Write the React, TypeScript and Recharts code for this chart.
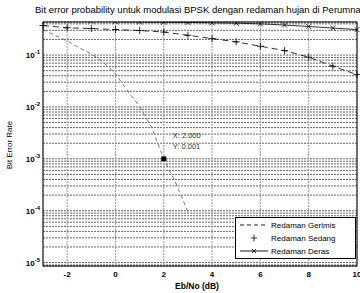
import React from 'react';
import {
  ComposedChart,
  Line,
  XAxis,
  YAxis,
  CartesianGrid,
  Legend,
  ReferenceDot,
  ReferenceLine,
  Customized,
} from 'recharts';

// Eb/No (dB) sample points
const ebnoGerimis = [-3, -2.5, -2, -1.5, -1, -0.5, 0, 0.5, 1, 1.5, 2, 2.5, 3];
const berGerimis = [0.31, 0.24, 0.188, 0.138, 0.106, 0.0724, 0.0437, 0.0204, 0.0102, 0.004, 0.001, 0.00034, 0.000095];

const ebno = [-3, -2, -1, 0, 1, 2, 3, 4, 5, 6, 7, 8, 9, 10];
const berSedang = [0.371, 0.335, 0.325, 0.31, 0.297, 0.278, 0.241, 0.208, 0.18, 0.148, 0.122, 0.091, 0.061, 0.042];
const berDeras = [0.48, 0.47, 0.455, 0.44, 0.435, 0.43, 0.425, 0.418, 0.411, 0.4, 0.379, 0.355, 0.332, 0.31];

const seriesNames = ['Redaman Gerimis', 'Redaman Sedang', 'Redaman Deras'];

const xTicks = [-2, 0, 2, 4, 6, 8, 10];
const decadeTicks = [1e-5, 1e-4, 1e-3, 1e-2, 1e-1];
const yDomain: [number, number] = [8.6e-6, 0.434];

const tipX = 2;
const tipY = 0.001;

const title = 'Bit error probability untuk modulasi BPSK dengan redaman hujan di Perumnas';

const FONT = '"Liberation Sans", Arial, Helvetica, sans-serif';

// log grid: every m * 10^k inside the y range
const yGridTicks = [9e-6, ...decadeTicks.flatMap((d) => [1, 2, 3, 4, 5, 6, 7, 8, 9].map((m) => m * d))].filter(
  (v) => v <= yDomain[1]
);

const gerimisData = ebnoGerimis.map((x, i) => ({ x, y: berGerimis[i] }));
const sedangData = ebno.map((x, i) => ({ x, y: berSedang[i] }));
const derasData = ebno.map((x, i) => ({ x, y: berDeras[i] }));

const PlusDot = (props: any) => {
  const { cx, cy, index } = props;
  if (cx == null || cy == null) return <g key={index} />;
  return (
    <path
      key={index}
      d={`M${cx - 3.5},${cy}H${cx + 3.5}M${cx},${cy - 3.5}V${cy + 3.5}`}
      stroke="#000"
      strokeWidth={0.8}
      fill="none"
    />
  );
};

const CrossDot = (props: any) => {
  const { cx, cy, index } = props;
  if (cx == null || cy == null) return <g key={index} />;
  const r = 2.5;
  return (
    <path
      key={index}
      d={`M${cx - r},${cy - r}L${cx + r},${cy + r}M${cx - r},${cy + r}L${cx + r},${cy - r}`}
      stroke="#000"
      strokeWidth={0.8}
      fill="none"
    />
  );
};

const YTick = (props: any) => {
  const { x, y, payload } = props;
  const lg = Math.log10(payload.value);
  const e = Math.round(lg);
  if (Math.abs(lg - e) > 1e-6) return <g />;
  return (
    <text x={x} y={y + 3} textAnchor="end" fontSize={8} fontFamily={FONT} fontWeight="bold" fill="#000">
      10
      <tspan dy={-4} fontSize={6}>
        {e}
      </tspan>
    </text>
  );
};

const DataTip = (props: any) => {
  const { cx, cy } = props;
  return (
    <g>
      <rect x={cx - 2.5} y={cy - 2.5} width={5} height={5} fill="#000" />
      <text x={cx + 9} y={cy - 20.5} fontSize={7.5} fontFamily={FONT} fill="#333">
        X: 2.000
      </text>
      <text x={cx + 9} y={cy - 10} fontSize={7.5} fontFamily={FONT} fill="#333">
        Y: 0.001
      </text>
    </g>
  );
};

const renderLegend = () => {
  const rows = [8, 21, 34];
  return (
    <svg width={121} height={42} style={{ display: 'block' }}>
      <rect x={0.5} y={0.5} width={120} height={41} fill="#fff" stroke="#000" strokeWidth={1} />
      <line x1={5} x2={33} y1={rows[0]} y2={rows[0]} stroke="#000" strokeWidth={0.9} strokeDasharray="4 3" />
      <path d={`M16,${rows[1]}H22M19,${rows[1] - 3.5}V${rows[1] + 3.5}`} stroke="#000" strokeWidth={0.8} />
      <line x1={5} x2={33} y1={rows[2]} y2={rows[2]} stroke="#000" strokeWidth={0.9} />
      <path
        d={`M17,${rows[2] - 2}L21,${rows[2] + 2}M17,${rows[2] + 2}L21,${rows[2] - 2}`}
        stroke="#000"
        strokeWidth={0.8}
      />
      {seriesNames.map((name, i) => (
        <text key={name} x={36} y={rows[i] + 3} fontSize={8} fontFamily={FONT} fill="#000">
          {name}
        </text>
      ))}
    </svg>
  );
};

const Texts = () => (
  <g fontFamily={FONT} fill="#000">
    <text x={35} y={12.5} fontSize={9.5}>
      {title}
    </text>
    <text transform="translate(12,145) rotate(-90)" textAnchor="middle" fontSize={8}>
      Bit Error Rate
    </text>
    <text x={197} y={288.5} textAnchor="middle" fontSize={8.5} fontWeight="bold">
      Eb/No (dB)
    </text>
  </g>
);

const App: React.FC = () => {
  return (
    <div style={{ position: 'absolute', left: 0, top: 0, width: 360, height: 293, overflow: 'hidden', background: '#fff' }}>
      <ComposedChart width={360} height={293} margin={{ top: 22, right: 3, bottom: 0, left: 0 }}>
        <CartesianGrid vertical={false} stroke="#333" strokeWidth={0.75} strokeDasharray="2 1" />
        <CartesianGrid horizontal={false} stroke="#999" strokeWidth={1} strokeDasharray="2 1" />
        <XAxis
          dataKey="x"
          type="number"
          domain={[-3, 10]}
          ticks={xTicks}
          interval={0}
          height={27}
          tickSize={3}
          tickMargin={2}
          tickLine={false}
          axisLine={{ stroke: '#000' }}
          tick={{ fontSize: 8, fill: '#000', fontFamily: FONT, fontWeight: 'bold' }}
        />
        <YAxis
          dataKey="y"
          type="number"
          scale="log"
          domain={yDomain}
          allowDataOverflow
          ticks={yGridTicks}
          interval={0}
          width={43}
          tickSize={0}
          tickMargin={3}
          tickLine={false}
          axisLine={{ stroke: '#000' }}
          tick={<YTick />}
        />
        <ReferenceLine y={yDomain[1]} stroke="#000" strokeWidth={1} />
        <ReferenceLine x={10} stroke="#000" strokeWidth={1} />
        <Line
          data={gerimisData}
          dataKey="y"
          name={seriesNames[0]}
          stroke="#555"
          strokeWidth={0.8}
          strokeDasharray="4 3"
          dot={false}
          isAnimationActive={false}
        />
        <Line
          data={sedangData}
          dataKey="y"
          name={seriesNames[1]}
          stroke="#000"
          strokeWidth={0.8}
          strokeDasharray="6 4"
          dot={<PlusDot />}
          isAnimationActive={false}
        />
        <Line
          data={derasData}
          dataKey="y"
          name={seriesNames[2]}
          stroke="#000"
          strokeWidth={0.8}
          dot={<CrossDot />}
          isAnimationActive={false}
        />
        <ReferenceDot x={tipX} y={tipY} shape={<DataTip />} />
        <Legend
          layout="horizontal"
          align="center"
          verticalAlign="middle"
          width={121}
          height={42}
          wrapperStyle={{ position: 'absolute', left: 235, top: 217, width: 121, height: 42 }}
          content={renderLegend}
        />
        <Customized component={<Texts />} />
      </ComposedChart>
    </div>
  );
};

export default App;
